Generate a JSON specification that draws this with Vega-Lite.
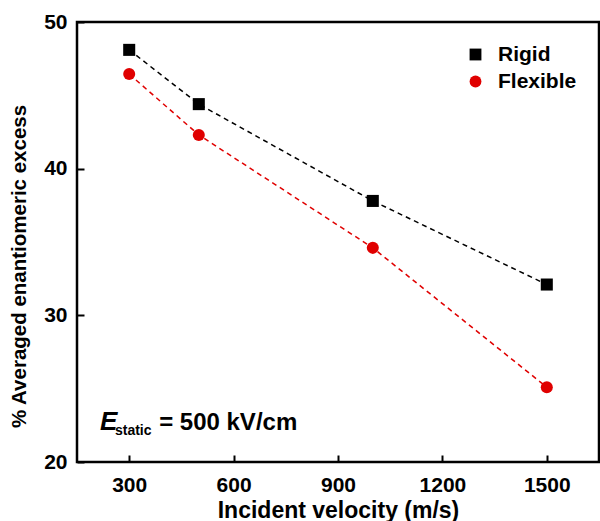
{
  "$schema": "https://vega.github.io/schema/vega-lite/v6.json",
  "width": 522,
  "height": 440,
  "autosize": {"type": "none"},
  "padding": {"left": 77, "top": 22, "right": 1, "bottom": 59},
  "background": "white",
  "config": {
    "font": "Liberation Sans",
    "view": {"stroke": "black", "strokeWidth": 2.5, "fill": null},
    "axis": {
      "domain": false, "grid": false, "tickColor": "black", "tickWidth": 2,
      "labelFont": "Liberation Sans", "labelFontWeight": "bold", "labelFontSize": 21, "labelColor": "black",
      "titleFont": "Liberation Sans", "titleFontWeight": "bold", "titleFontSize": 20, "titleColor": "black"
    }
  },
  "layer": [
    {
      "data": {"values": [
        {"v": 300, "ee": 48.1}, {"v": 500, "ee": 44.4}, {"v": 1000, "ee": 37.8}, {"v": 1500, "ee": 32.1}
      ]},
      "mark": {"type": "line", "strokeDash": [5, 4], "strokeWidth": 1.5, "color": "black"},
      "encoding": {
        "x": {"field": "v", "type": "quantitative", "scale": {"domain": [150, 1650], "nice": false},
              "axis": {"values": [300, 600, 900, 1200, 1500], "format": "d", "title": "Incident velocity (m/s)", "titleFontSize": 23, "tickSize": 7, "offset": -7, "labelPadding": 12, "titlePadding": 4}},
        "y": {"field": "ee", "type": "quantitative", "scale": {"domain": [20, 50], "nice": false, "zero": false},
              "axis": {"values": [20, 30, 40, 50], "title": "% Averaged enantiomeric excess", "titleFontSize": 20.5, "titleY": 244, "tickSize": 7, "offset": -7, "labelPadding": 10, "titlePadding": 14}}
      }
    },
    {
      "data": {"values": [
        {"v": 300, "ee": 46.45}, {"v": 500, "ee": 42.3}, {"v": 1000, "ee": 34.6}, {"v": 1500, "ee": 25.1}
      ]},
      "mark": {"type": "line", "strokeDash": [5, 4], "strokeWidth": 1.5, "color": "#e00000"},
      "encoding": {
        "x": {"field": "v", "type": "quantitative"},
        "y": {"field": "ee", "type": "quantitative"}
      }
    },
    {
      "data": {"values": [
        {"v": 300, "ee": 48.1, "s": "Rigid"},
        {"v": 500, "ee": 44.4, "s": "Rigid"},
        {"v": 1000, "ee": 37.8, "s": "Rigid"},
        {"v": 1500, "ee": 32.1, "s": "Rigid"},
        {"v": 300, "ee": 46.45, "s": "Flexible"},
        {"v": 500, "ee": 42.3, "s": "Flexible"},
        {"v": 1000, "ee": 34.6, "s": "Flexible"},
        {"v": 1500, "ee": 25.1, "s": "Flexible"}
      ]},
      "mark": {"type": "point", "filled": true, "opacity": 1, "size": 145},
      "encoding": {
        "x": {"field": "v", "type": "quantitative"},
        "y": {"field": "ee", "type": "quantitative"},
        "color": {"field": "s", "type": "nominal", "scale": {"domain": ["Rigid", "Flexible"], "range": ["black", "#e00000"]},
                  "legend": {"orient": "top-right", "offset": 22, "title": null, "labelFontSize": 21, "labelFontWeight": "bold", "labelColor": "black", "labelFont": "Liberation Sans", "symbolSize": 140, "rowPadding": 5, "labelOffset": 12, "symbolOpacity": 1}},
        "shape": {"field": "s", "type": "nominal", "scale": {"domain": ["Rigid", "Flexible"], "range": ["square", "circle"]},
                  "legend": {"orient": "top-right", "offset": 22, "title": null, "labelFontSize": 21, "labelFontWeight": "bold", "labelColor": "black", "labelFont": "Liberation Sans", "symbolSize": 140, "rowPadding": 5, "labelOffset": 12, "symbolOpacity": 1}}
      }
    },
    {
      "data": {"values": [{"v": 216, "ee": 22.18, "t": "E"}]},
      "mark": {"type": "text", "align": "left", "baseline": "alphabetic", "fontSize": 26, "fontWeight": "bold", "fontStyle": "italic", "font": "Liberation Sans", "color": "black"},
      "encoding": {"x": {"field": "v", "type": "quantitative"}, "y": {"field": "ee", "type": "quantitative"}, "text": {"field": "t"}}
    },
    {
      "data": {"values": [{"v": 259, "ee": 21.87, "t": "static"}]},
      "mark": {"type": "text", "align": "left", "baseline": "alphabetic", "fontSize": 14, "fontWeight": "bold", "font": "Liberation Sans", "color": "black"},
      "encoding": {"x": {"field": "v", "type": "quantitative"}, "y": {"field": "ee", "type": "quantitative"}, "text": {"field": "t"}}
    },
    {
      "data": {"values": [{"v": 386, "ee": 22.18, "t": "= 500 kV/cm"}]},
      "mark": {"type": "text", "align": "left", "baseline": "alphabetic", "fontSize": 24, "fontWeight": "bold", "font": "Liberation Sans", "color": "black"},
      "encoding": {"x": {"field": "v", "type": "quantitative"}, "y": {"field": "ee", "type": "quantitative"}, "text": {"field": "t"}}
    }
  ]
}
